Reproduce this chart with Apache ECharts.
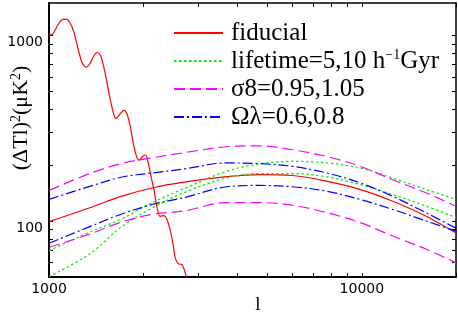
<!DOCTYPE html>
<html>
<head>
<meta charset="utf-8">
<script src="https://cdn.jsdelivr.net/npm/echarts@6/dist/echarts.min.js"></script>
<style>
  html, body { margin: 0; padding: 0; background: #fff; }
  #chart { width: 458px; height: 321px; }
</style>
</head>
<body>
<div id="chart"></div>
<script>
// primary (fiducial) spectrum, drops off the bottom past l~2700
var primEll = [1000, 1030, 1068, 1100, 1133, 1167, 1202, 1238, 1275, 1313, 1352, 1393, 1427, 1466,
  1510, 1566, 1613, 1637, 1686, 1736, 1775, 1815, 1869, 1910, 1943, 1990, 2037, 2072, 2129, 2170,
  2209, 2263, 2313, 2365, 2436, 2496, 2527, 2589, 2655, 2700, 2740, 2781];
var primFid = [1000, 1025, 1145, 1218, 1228, 1174, 1038, 852, 717, 677, 708, 782, 814, 772,
  634, 460, 373, 358, 378, 397, 378, 330, 252, 220, 213, 223, 228, 209, 168, 145,
  121, 106, 107, 105, 90.6, 73.8, 64.2, 58.9, 58.5, 55.4, 50.8, 43.3];

// secondary spectra
var ell = [1000, 1350, 1700, 2150, 2700, 3700, 4700, 6000, 7700, 9850, 12500, 16000, 20000];
var fid2 = [99.4, 118.1, 136.1, 151.4, 162.3, 174.0, 178.4, 176.2, 164.3, 148.3, 128.4, 106.7, 86.3];
var lifeA = [69.4, 87.3, 102.5, 126.4, 149.6, 185.8, 203.5, 210.1, 206.0, 193.7, 171.2, 148.3, 131.1];
var lifeB = [50.2, 66.6, 92.9, 118.4, 142.4, 171.2, 180.6, 180.6, 173.4, 157.7, 139.5, 120.7, 104.7];
var sigHi = [146.5, 180.6, 204.3, 219.9, 233.9, 251.8, 254.9, 242.7, 223.5, 197.6, 167.7, 142.4, 120.3];
var sigLo = [72.3, 85.2, 98.8, 109.0, 113.5, 125.9, 125.9, 121.8, 111.3, 98.4, 83.4, 70.8, 59.6];
var omHi = [131.1, 153.9, 172.5, 182.1, 191.3, 206.0, 204.3, 197.6, 182.1, 161.1, 136.6, 111.3, 91.7];
var omLo = [76.0, 93.4, 109.0, 123.3, 133.9, 153.3, 155.8, 153.3, 145.2, 131.1, 115.9, 100.4, 88.4];

var xTicks = [1000, 2000, 3000, 4000, 5000, 6000, 7000, 8000, 9000, 10000, 20000];
var xLabels = [1000, 10000];
var yTicks = [50, 60, 70, 80, 90, 100, 200, 300, 400, 500, 600, 700, 800, 900, 1000];
var yLabels = [100, 1000];

var legendText = {
  fiducial: 'fiducial',
  lifetime: 'lifetime=5,10 h{s|\u22121}Gyr',
  sigma8: '\u03c38=0.95,1.05',
  omega: '\u03a9\u03bb=0.6,0.8'
};

function pairs(xs, ys) {
  return xs.map(function (x, i) { return [x, ys[i]]; });
}

var chart = echarts.init(document.getElementById('chart'));

function mkLine(name, xs, ys, color, type) {
  return {
    name: name,
    type: 'line',
    data: pairs(xs, ys),
    symbol: 'none',
    smooth: 0.35,
    clip: true,
    lineStyle: { color: color, width: 1.2, type: type },
    itemStyle: { color: color },
    animation: false
  };
}

var serif = 'Liberation Serif';
var sans = 'DejaVu Sans';

var option = {
  backgroundColor: '#fff',
  animation: false,
  grid: { left: 49, right: 2, top: 3, bottom: 44, containLabel: false, outerBoundsMode: 'none' },
  legend: {
    orient: 'vertical',
    left: 173,
    top: 20,
    padding: 0,
    itemWidth: 49,
    itemHeight: 12,
    itemGap: 2,
    itemStyle: { opacity: 0 },
    data: ['fiducial', 'lifetime', 'sigma8', 'omega'],
    formatter: function (n) { return legendText[n]; },
    textStyle: {
      fontFamily: serif, fontSize: 25, lineHeight: 26, color: '#000',
      padding: [0, 0, 0, 3],
      rich: { s: { fontFamily: serif, fontSize: 14, lineHeight: 14, verticalAlign: 'top' } }
    }
  },
  xAxis: [{
    type: 'log', min: 1000, max: 20000, position: 'bottom',
    name: 'l', nameLocation: 'middle', nameGap: 19, nameMoveOverlap: false,
    nameTextStyle: { fontFamily: serif, fontSize: 19, color: '#000', padding: [0, 0, 0, 11] },
    axisLine: { lineStyle: { color: '#000', width: 2 } },
    axisTick: { inside: true, length: 4, customValues: xTicks, lineStyle: { color: '#000' } },
    axisLabel: {
      customValues: xLabels, margin: 5, color: '#000', fontFamily: sans, fontSize: 14,
      formatter: function (v) { return String(Math.round(v)); }
    },
    splitLine: { show: false }
  }, {
    type: 'log', min: 1000, max: 20000, position: 'top',
    axisLine: { lineStyle: { color: '#000', width: 1.5 } },
    axisTick: { inside: true, length: 4, customValues: xTicks, lineStyle: { color: '#000' } },
    axisLabel: { show: false },
    splitLine: { show: false }
  }],
  yAxis: [{
    type: 'log', min: 50, max: 1500, position: 'left',
    name: '(\u0394Tl){s|2}(\u03bcK{s|2})', nameLocation: 'middle', nameGap: 16, nameMoveOverlap: false,
    nameTextStyle: {
      fontFamily: serif, fontSize: 22, lineHeight: 24, color: '#000', padding: [0, 0, 0, 44],
      rich: { s: { fontFamily: serif, fontSize: 14, lineHeight: 14, verticalAlign: 'top' } }
    },
    axisLine: { lineStyle: { color: '#000', width: 2 } },
    axisTick: { inside: true, length: 4, customValues: yTicks, lineStyle: { color: '#000' } },
    axisLabel: {
      customValues: yLabels, margin: 6, color: '#000', fontFamily: sans, fontSize: 14,
      verticalAlign: 'top', lineHeight: 14,
      formatter: function (v) { return String(Math.round(v)); }
    },
    splitLine: { show: false }
  }, {
    type: 'log', min: 50, max: 1500, position: 'right',
    axisLine: { lineStyle: { color: '#000', width: 1.5 } },
    axisTick: { inside: true, length: 4, customValues: yTicks, lineStyle: { color: '#000' } },
    axisLabel: { show: false },
    splitLine: { show: false }
  }],
  series: [
    mkLine('fiducial', primEll, primFid, '#ff0000', 'solid'),
    mkLine('fiducial', ell, fid2, '#ff0000', 'solid'),
    mkLine('lifetime', ell, lifeA, '#00ee00', [2.5, 2.5]),
    mkLine('lifetime', ell, lifeB, '#00ee00', [2.5, 2.5]),
    mkLine('sigma8', ell, sigHi, '#ff00ff', [11, 5]),
    mkLine('sigma8', ell, sigLo, '#ff00ff', [11, 5]),
    mkLine('omega', ell, omHi, '#0000ff', [10, 3, 2, 3]),
    mkLine('omega', ell, omLo, '#0000ff', [10, 3, 2, 3])
  ]
};
option.series[0].smooth = 0.25;

chart.setOption(option);
</script>
</body>
</html>
